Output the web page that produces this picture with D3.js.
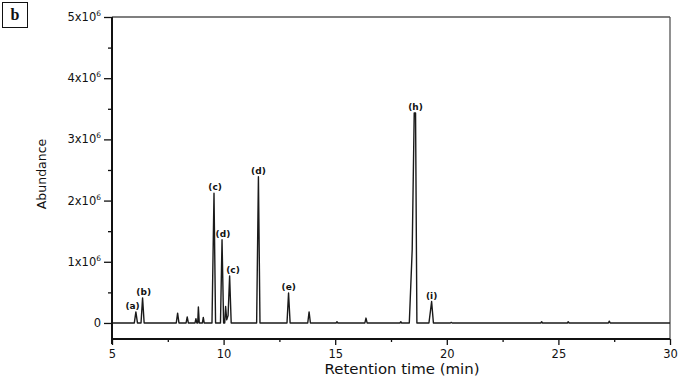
<!DOCTYPE html>
<html><head><meta charset="utf-8">
<script src="https://cdn.jsdelivr.net/npm/d3@7"></script>
<style>body{margin:0;background:#fff}svg{display:block}</style>
</head><body><svg id="c" width="679" height="378"></svg>
<script>
// Chromatogram trace (retention time in min, abundance)
const traceTime = [5.0,
 6.00,6.07,6.14, 6.30,6.37,6.44, 7.88,7.94,8.00, 8.32,8.37,8.42,
 8.72,8.76,8.80,8.84,8.87,8.91, 9.05,9.09,9.13,
 9.48,9.57,9.64, 9.86,9.93,10.00, 10.05,10.09,10.14,10.20,10.27,10.34,
 11.48,11.56,11.63, 12.84,12.91,12.98, 13.77,13.83,13.89, 15.04,15.08,15.12,
 16.33,16.38,16.43, 17.90,17.94,17.98,
 18.32,18.45,18.54,18.60,18.66, 19.20,19.32,19.40, 20.16,20.20,20.24,
 24.21,24.25,24.29, 25.40,25.44,25.48, 27.24,27.28,27.32, 30.0];
const traceAbundance = [0,
 0,0.18e6,0, 0,0.41e6,0, 0,0.16e6,0, 0,0.10e6,0,
 0,0.07e6,0,0,0.26e6,0, 0,0.09e6,0,
 0,2.12e6,0, 0,1.36e6,0, 0,0.27e6,0.05e6,0.12e6,0.77e6,0,
 0,2.39e6,0, 0,0.49e6,0, 0,0.18e6,0, 0,0.02e6,0,
 0,0.08e6,0, 0,0.02e6,0,
 0,1.2e6,3.43e6,3.43e6,0, 0,0.35e6,0, 0,0.01e6,0,
 0,0.02e6,0, 0,0.02e6,0, 0,0.03e6,0, 0];
// Peak labels (label anchor time, peak height)
const peakLabels = ["(a)","(b)","(c)","(d)","(c)","(d)","(e)","(h)","(i)"];
const labelTimes = [5.92,6.42,9.62,9.97,10.42,11.56,12.92,18.6,19.32];
const peakHeights = [0.18e6,0.41e6,2.12e6,1.36e6,0.77e6,2.39e6,0.49e6,3.43e6,0.35e6];
// Axis ticks
const xTicks = [5,10,15,20,25,30];
const xMinorTicks = [7.5,12.5,17.5,22.5,27.5];
const yTicks = [0,1e6,2e6,3e6,4e6,5e6];
const yTickLabels = ["0","1","2","3","4","5"];
const yMinorTicks = [0.5e6,1.5e6,2.5e6,3.5e6,4.5e6];

const FONT = "'DejaVu Sans', Verdana, sans-serif";
const svg = d3.select("#c");
const L=112,R=670,T=17,B=339;
const x = d3.scaleLinear().domain([5,30]).range([L,R]);
const y = d3.scaleLinear().domain([-0.262e6,5e6]).range([B,T]);

// frame top/right
svg.append("line").attr("x1",L).attr("x2",R).attr("y1",T).attr("y2",T).attr("stroke","#555").attr("stroke-width",1.3);
svg.append("line").attr("x1",R).attr("x2",R).attr("y1",T).attr("y2",B).attr("stroke","#555").attr("stroke-width",1.3);

// trace
const pts = traceTime.map((t,i)=>[t,traceAbundance[i]]);
svg.append("path").datum(pts)
  .attr("d", d3.line().x(d=>x(d[0])).y(d=>y(d[1])))
  .attr("fill","none").attr("stroke","#1a1a1a").attr("stroke-width",1.4).attr("stroke-linejoin","round");

// peak labels
svg.append("g").selectAll("text").data(peakLabels).join("text")
  .attr("x",(d,i)=>x(labelTimes[i]))
  .attr("y",(d,i)=>y(peakHeights[i])-3)
  .attr("text-anchor","middle").attr("font-size",9).attr("font-weight","bold")
  .style("font-family",FONT).attr("fill","#111").text(d=>d);

// x axis
const xa = svg.append("g").attr("transform",`translate(0,${B})`);
xa.call(d3.axisBottom(x).tickValues(xTicks).tickSize(6).tickFormat(d3.format("d")));
xa.append("g").call(d3.axisBottom(x).tickValues(xMinorTicks).tickSize(3).tickFormat(""));
xa.selectAll(".domain").remove();
xa.selectAll("line").attr("stroke","#111").attr("stroke-width",1.3);
xa.selectAll("text").attr("font-size",11.5).attr("fill","#111").attr("y",19).attr("dy",null)
  .style("font-family",FONT);
svg.append("line").attr("x1",L-1).attr("x2",R).attr("y1",B).attr("y2",B).attr("stroke","#111").attr("stroke-width",2);

// y axis
const ya = svg.append("g").attr("transform",`translate(${L},0)`);
ya.call(d3.axisLeft(y).tickValues(yTicks).tickSize(8).tickFormat(""));
ya.append("g").call(d3.axisLeft(y).tickValues(yMinorTicks).tickSize(4).tickFormat(""));
ya.selectAll(".domain").remove();
ya.selectAll("line").attr("stroke","#111").attr("stroke-width",1.3);
svg.append("line").attr("x1",L).attr("x2",L).attr("y1",T).attr("y2",B+5).attr("stroke","#111").attr("stroke-width",2);

const yl = svg.append("g").selectAll("text").data(yTicks).join("text")
  .attr("x",L-11).attr("y",d=>y(d)+4).attr("text-anchor","end")
  .attr("font-size",11.5).attr("fill","#111").style("font-family",FONT);
yl.each(function(d,i){
  const s=d3.select(this);
  if(d===0){ s.text("0"); return; }
  s.append("tspan").text(yTickLabels[i]+"x10");
  s.append("tspan").attr("dy",-5).attr("font-size",7.5).text("6");
});

// axis titles
svg.append("text").attr("x",402).attr("y",374).attr("text-anchor","middle")
  .attr("font-size",14).attr("textLength",155).attr("lengthAdjust","spacingAndGlyphs")
  .attr("fill","#111").style("font-family",FONT).text("Retention time (min)");
svg.append("text").attr("transform","translate(46,174) rotate(-90)").attr("text-anchor","middle")
  .attr("font-size",12.5).attr("fill","#111").style("font-family",FONT).text("Abundance");

// panel label
svg.append("rect").attr("x",2.5).attr("y",2.5).attr("width",25).attr("height",25)
  .attr("fill","#fff").attr("stroke","#111").attr("stroke-width",1);
svg.append("text").attr("x",15).attr("y",20).attr("text-anchor","middle")
  .style("font-family","'Liberation Serif','Times New Roman',serif").attr("font-weight","bold")
  .attr("font-size",16).attr("fill","#111").text("b");
</script></body></html>
